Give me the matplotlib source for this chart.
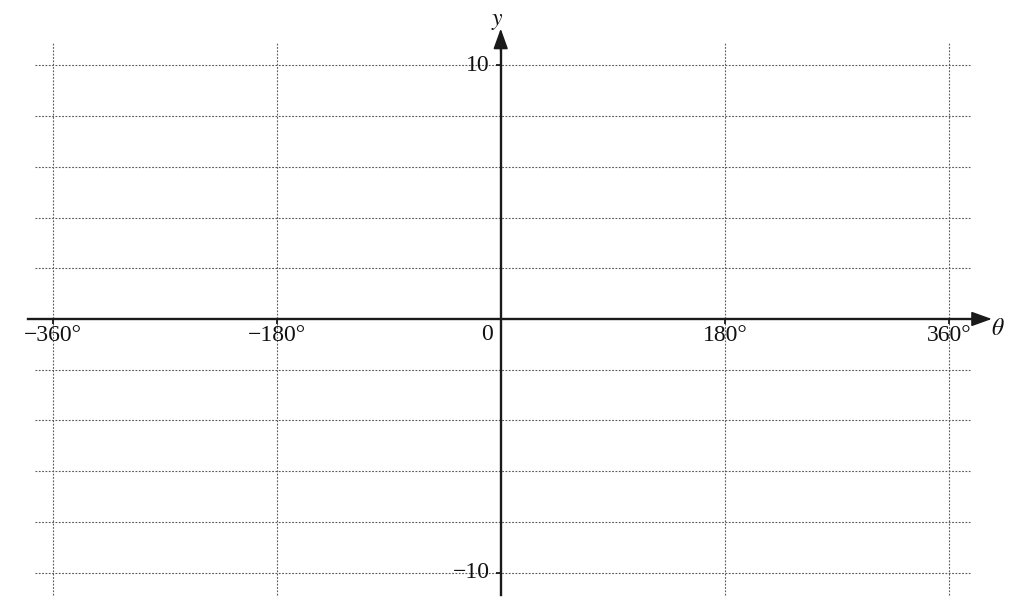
import matplotlib
matplotlib.use("Agg")
import matplotlib.pyplot as plt

# tick / grid values
x_ticks = [-360, -180, 180, 360]
x_tick_labels = ["\u2212360\u00b0", "\u2212180\u00b0", "180\u00b0", "360\u00b0"]
y_grid = [-10, -8, -6, -4, -2, 2, 4, 6, 8, 10]
y_ticks = [-10, 10]
y_tick_labels = ["\u221210", "10"]

# extents of the drawn axes and grid (data units)
grid_x = (-374, 377)
grid_y = (-10.9, 10.9)
x_axis = (-380, 394.5)
y_axis = (-10.9, 11.45)

plt.rcParams["font.family"] = ["Liberation Serif", "DejaVu Serif"]
plt.rcParams["mathtext.fontset"] = "stix"

fig = plt.figure(figsize=(10.13, 6.07), dpi=100)
ax = fig.add_axes([0, 0, 1, 1])
ax.set_xlim(-402.2, 411.5)
ax.set_ylim(-11.36, 12.58)
ax.axis("off")

grid_kw = dict(color="#5a5a5a", lw=0.8, ls=(0, (1.6, 1.4)), zorder=1)
for y in y_grid:
    ax.plot(grid_x, [y, y], **grid_kw)
for x in x_ticks:
    ax.plot([x, x], grid_y, **grid_kw)

axis_kw = dict(color="#1a1a1a", lw=1.7, zorder=3)
ax.plot([x_axis[0], x_axis[1] - 12], [0, 0], **axis_kw)
ax.plot([0, 0], [y_axis[0], y_axis[1] - 0.5], **axis_kw)

arrow = dict(arrowstyle="-|>,head_length=1.25,head_width=0.45", color="#1a1a1a",
             lw=1.2, mutation_scale=10, shrinkA=0, shrinkB=0)
ax.annotate("", xy=(x_axis[1], 0), xytext=(x_axis[1] - 20, 0), arrowprops=arrow, zorder=4)
ax.annotate("", xy=(0, y_axis[1]), xytext=(0, y_axis[1] - 0.9), arrowprops=arrow, zorder=4)

# small ticks
ax.plot(x_ticks, [0] * len(x_ticks), ls="none", marker=3, ms=3.5, mew=1.3,
        color="#1a1a1a", zorder=3)
ax.plot([0] * len(y_ticks), y_ticks, ls="none", marker=0, ms=3.5, mew=1.3,
        color="#1a1a1a", zorder=3)

fs = 17
tc = "#111111"
for x, lab in zip(x_ticks, x_tick_labels):
    ax.text(x, -0.67, lab, ha="center", va="center", fontsize=fs, color=tc)
for y, lab in zip(y_ticks, y_tick_labels):
    ax.text(-8.6, y, lab, ha="right", va="center", fontsize=fs, color=tc)
ax.text(-11, -0.63, "0", ha="center", va="center", fontsize=fs, color=tc)

ax.text(-3, 11.72, "$y$", ha="center", va="center", fontsize=fs, color=tc)
ax.text(399.6, -0.43, r"$\theta$", ha="center", va="center", fontsize=fs, color=tc)

fig.savefig("out.png", dpi=100)
